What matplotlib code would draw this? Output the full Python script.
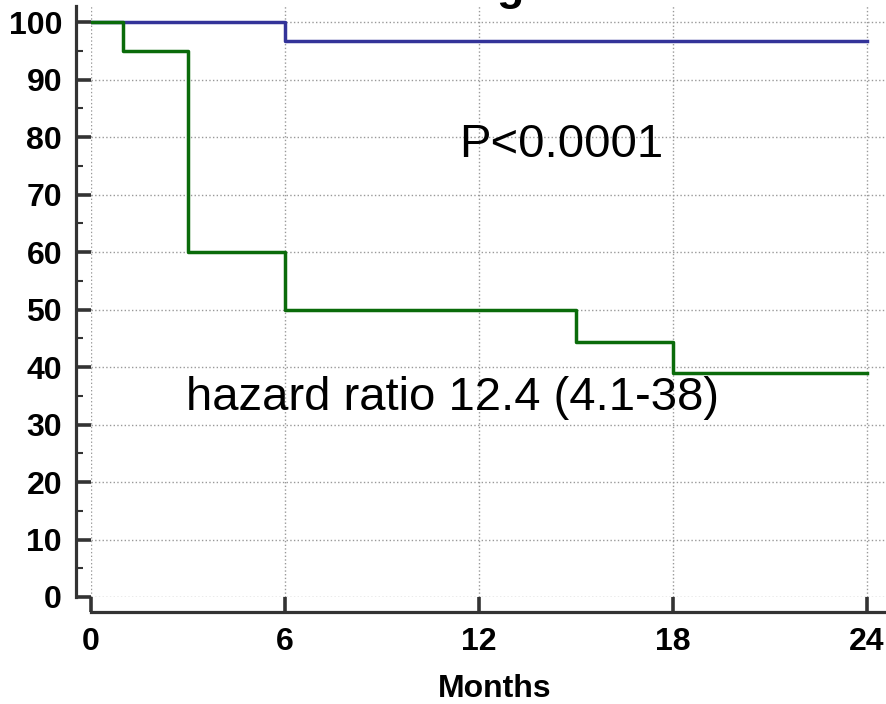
import numpy as np
from matplotlib import pyplot as plt
from matplotlib.ticker import MultipleLocator

# Kaplan-Meier type step curves (percent surviving)
months_blue = [0, 6, 24]
surv_blue = [100, 96.7, 96.7]

months_green = [0, 1, 3, 6, 15, 18, 24]
surv_green = [100, 95, 60, 50, 44.4, 38.9, 38.9]

x_ticks = [0, 6, 12, 18, 24]
y_ticks = [0, 10, 20, 30, 40, 50, 60, 70, 80, 90, 100]

plt.rcParams['font.family'] = ['Liberation Sans', 'DejaVu Sans']

fig = plt.figure(figsize=(8.86, 7.04), dpi=100)
ax = fig.add_axes([91/886, 107/704, 808/886, 591/704])

ax.step(months_blue, surv_blue, where='post', color='#333399', lw=2.5, zorder=3)
ax.step(months_green, surv_green, where='post', color='#0a6b0a', lw=2.5, zorder=3)

ax.set_xlim(0, 25)
ax.set_ylim(0, 102.8)
ax.set_xticks(x_ticks)
ax.set_yticks(y_ticks)
ax.yaxis.set_minor_locator(MultipleLocator(5))

ax.grid(True, which='major', ls=':', color='#999999', lw=1.0)

for s in ['top', 'right']:
    ax.spines[s].set_visible(False)
for s in ['left', 'bottom']:
    ax.spines[s].set_position(('outward', 10.8))
    ax.spines[s].set_color('#333333')
    ax.spines[s].set_linewidth(2.3)

ax.tick_params(axis='both', which='major', direction='in', length=10.5,
               width=2.6, color='#333333', labelsize=23)
ax.tick_params(axis='y', which='minor', direction='in', length=5,
               width=1.5, color='#333333')
ax.tick_params(axis='y', which='major', pad=10)
ax.tick_params(axis='x', which='major', pad=11)
for lab in ax.get_xticklabels() + ax.get_yticklabels():
    lab.set_fontweight('bold')

ax.set_xlabel('Months', fontsize=23, fontweight='bold', labelpad=12)

ax.text(11.4, 76.5, 'P<0.0001', fontsize=34, va='baseline', ha='left')
ax.text(2.94, 32.5, 'hazard ratio 12.4 (4.1-38)', fontsize=34,
        va='baseline', ha='left')

# title cut off at the top edge, only the descender shows
fig.text(510/886, 1.0, 'g', fontsize=32, fontweight='bold',
         ha='center', va='baseline')

fig.savefig('out.png', dpi=100)
